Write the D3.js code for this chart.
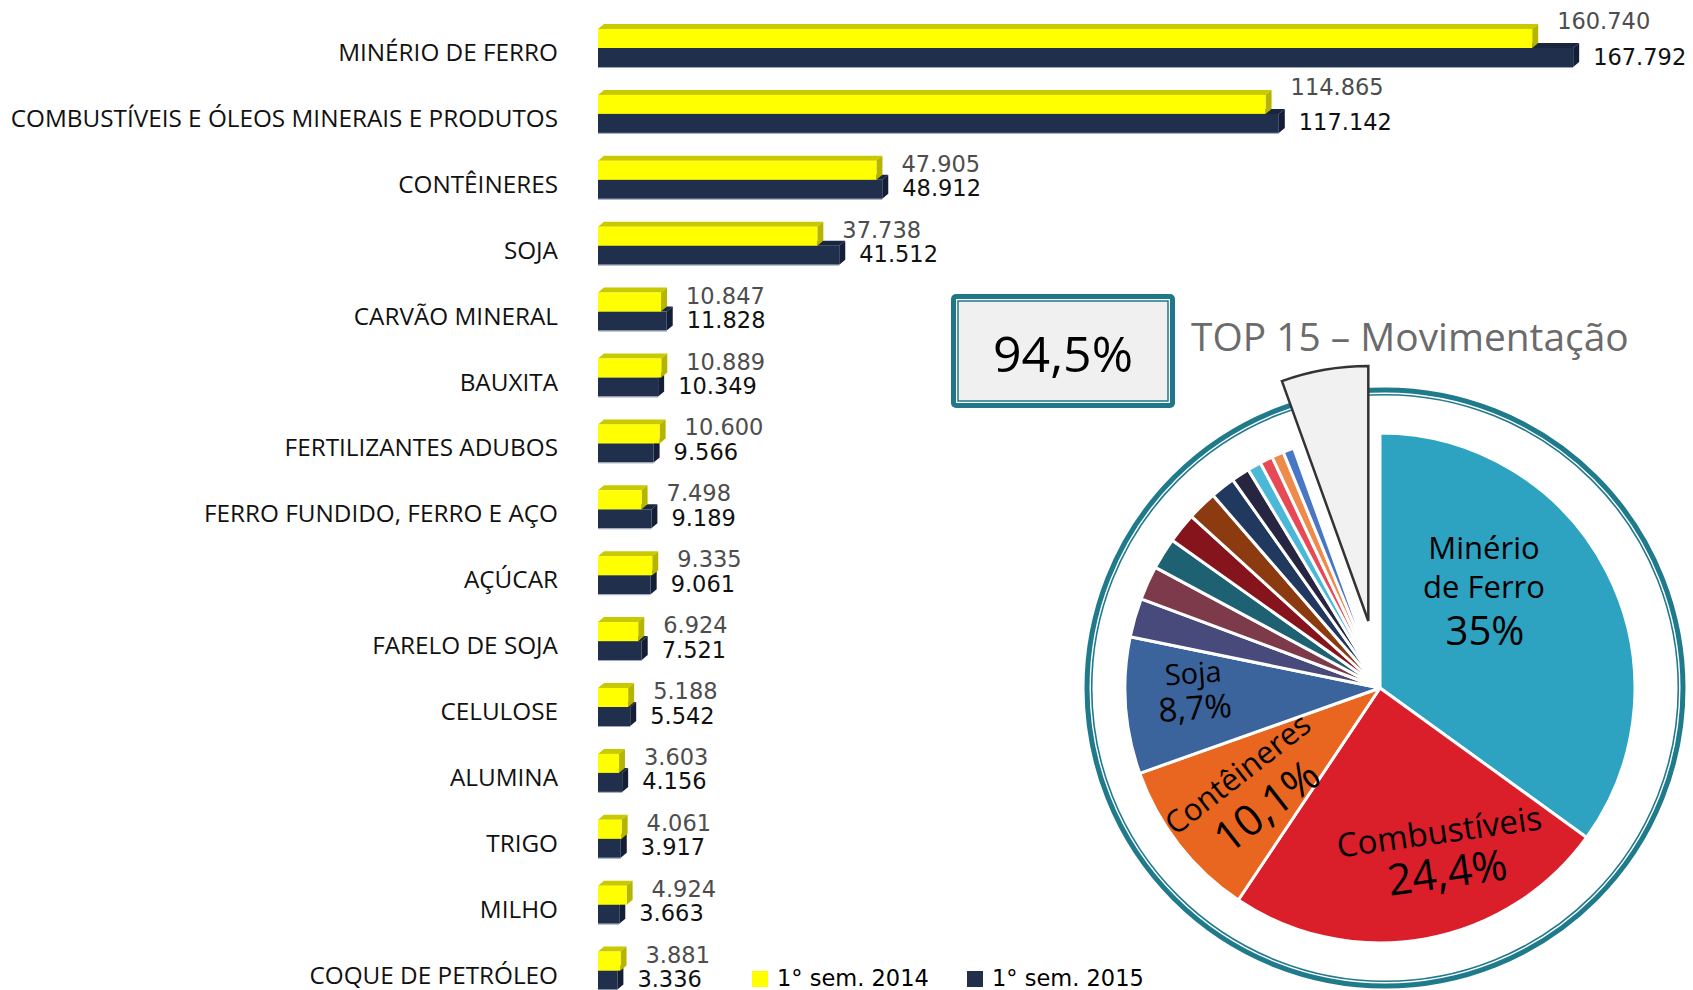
<!DOCTYPE html>
<html>
<head>
<meta charset="utf-8">
<script src="https://cdn.jsdelivr.net/npm/d3@7"></script>
<style>
  body { margin: 0; background: #fff; }
  svg { display: block; }
</style>
</head>
<body>
<div id="viz"></div>
<script>
// ---- data (thousand tonnes, 1st semester) ----
let categories = [
  "MINÉRIO DE FERRO", "COMBUSTÍVEIS E ÓLEOS MINERAIS E PRODUTOS", "CONTÊINERES", "SOJA",
  "CARVÃO MINERAL", "BAUXITA", "FERTILIZANTES ADUBOS", "FERRO FUNDIDO, FERRO E AÇO",
  "AÇÚCAR", "FARELO DE SOJA", "CELULOSE", "ALUMINA", "TRIGO", "MILHO", "COQUE DE PETRÓLEO"
];
let values_2014 = [160740, 114865, 47905, 37738, 10847, 10889, 10600, 7498, 9335, 6924, 5188, 3603, 4061, 4924, 3881];
let values_2015 = [167792, 117142, 48912, 41512, 11828, 10349, 9566, 9189, 9061, 7521, 5542, 4156, 3917, 3663, 3336];
let series_names = ["1° sem. 2014", "1° sem. 2015"];

// share of the top 15 in the whole movement (2015)
let top15_share = 0.945;
let top15_label = "94,5%";
let pie_title = "TOP 15 – Movimentação";

// pie slice colours: 15 products + "others"
let pie_colors = ["#2DA3C1", "#DA1F2B", "#E8661F", "#3A649B", "#474A7A", "#7D3A4A", "#1E6173",
                  "#86141D", "#8C3B10", "#21385F", "#272642", "#4CB8D8", "#E84A55", "#EE8A4A", "#4A76C6",
                  "#F1F1F1"];

// ---- layout ----
const W = 1693, H = 990;
let svg = d3.select("#viz").append("svg").attr("width", W).attr("height", H);

let x = d3.scaleLinear().domain([0, 170000]).range([598, 1586]);
let y = d3.scaleBand().domain(categories).range([14.5, 14.5 + 65.9 * categories.length]);

let yellow = {front: "#FFFF00", top: "#C9C900", side: "#B5B500"};
let navy = {front: "#1F2F4C", top: "#182640", side: "#141E36"};
let dx3 = 6, dy3 = 5, bar_h = 19;

function bar3d(g, x0, x1, y0, h, c) {
  g.append("path")
    .attr("d", `M${x0},${y0}L${x0 + dx3},${y0 - dy3}L${x1 + dx3},${y0 - dy3}L${x1},${y0}Z`)
    .attr("fill", c.top);
  g.append("path")
    .attr("d", `M${x1},${y0}L${x1 + dx3},${y0 - dy3}L${x1 + dx3},${y0 + h - dy3}L${x1},${y0 + h}Z`)
    .attr("fill", c.side);
  g.append("rect")
    .attr("x", x0).attr("y", y0)
    .attr("width", x1 - x0).attr("height", h)
    .attr("fill", c.front);
}

let fmt = d3.format(",");
let dot = v => fmt(v).replace(/,/g, ".");

let rows = svg.append("g").selectAll("g.row")
  .data(categories)
  .join("g")
  .attr("class", "row");

rows.each(function(cat, i) {
  let g = d3.select(this);
  let split = y(cat) + 33.5;
  let v14 = values_2014[i], v15 = values_2015[i];

  // 2015 bar first, 2014 sits on top of it
  bar3d(g, x(0), x(v15), split, bar_h, navy);
  g.append("line")
    .attr("x1", x(0)).attr("x2", x(v15))
    .attr("y1", split + bar_h + 0.5).attr("y2", split + bar_h + 0.5)
    .attr("stroke", "#9AA6B8").attr("stroke-width", 1);
  bar3d(g, x(0), x(v14), split - bar_h, bar_h, yellow);

  // category label
  g.append("text")
    .attr("x", 558).attr("y", split + 13)
    .attr("text-anchor", "end")
    .attr("font-family", "'Open Sans', 'Noto Sans', sans-serif")
    .attr("font-size", 24.3)
    .attr("fill", "#111")
    .text(cat);

  // value labels
  g.append("text")
    .attr("x", x(v14) + 25)
    .attr("y", v14 > 100000 ? split - 19 : split - 8)
    .attr("font-family", "'DejaVu Sans', sans-serif")
    .attr("font-size", 22.5)
    .attr("fill", "#4D4D4D")
    .text(dot(v14));
  g.append("text")
    .attr("x", x(v15) + 20)
    .attr("y", split + 16.5)
    .attr("font-family", "'DejaVu Sans', sans-serif")
    .attr("font-size", 22.5)
    .attr("fill", "#111")
    .text(dot(v15));
});

// ---- legend ----
let legend = svg.append("g").attr("transform", "translate(752,970)");
[[0, yellow.front], [215, navy.front]].forEach(([lx, col], k) => {
  legend.append("rect").attr("x", lx).attr("y", 1).attr("width", 16).attr("height", 16).attr("fill", col);
  legend.append("text")
    .attr("x", lx + 25).attr("y", 16)
    .attr("font-family", "'DejaVu Sans', sans-serif")
    .attr("font-size", 22.5)
    .attr("fill", "#000")
    .text(series_names[k]);
});

// ---- pie ----
let total_top15 = d3.sum(values_2015);
let others = total_top15 / top15_share - total_top15;
let pie_values = values_2015.concat([others]);
let pie_data = d3.pie().sort(null).value(d => d)(pie_values);
let pie_r = 255;
let arc = d3.arc().innerRadius(0).outerRadius(pie_r);

let ring = svg.append("g").attr("transform", "translate(1385,688)");
ring.append("circle").attr("r", 298).attr("fill", "none").attr("stroke", "#1F7A8C").attr("stroke-width", 5);
ring.append("circle").attr("r", 293.3).attr("fill", "none").attr("stroke", "#1F7A8C").attr("stroke-width", 1.6);

let pie_g = svg.append("g").attr("transform", "translate(1380,688)");
pie_g.selectAll("path.slice")
  .data(pie_data.slice(0, -1))
  .join("path")
  .attr("class", "slice")
  .attr("d", arc)
  .attr("fill", (d, i) => pie_colors[i])
  .attr("stroke", "#fff")
  .attr("stroke-width", 3)
  .attr("stroke-linejoin", "round");

// exploded "others" slice
let rest = pie_data[pie_data.length - 1];
let mid = (rest.startAngle + rest.endAngle) / 2;
let pull = 68;
pie_g.append("path")
  .attr("transform", `translate(${Math.sin(mid) * pull},${-Math.cos(mid) * pull})`)
  .attr("d", arc(rest))
  .attr("fill", pie_colors[pie_colors.length - 1])
  .attr("stroke", "#333")
  .attr("stroke-width", 2.5)
  .attr("stroke-linejoin", "miter");

// pie labels
let font_pie = "'Open Sans', 'Noto Sans', sans-serif";
function pie_text(tx, ty, rot, size, str) {
  pie_g.append("text")
    .attr("transform", `translate(${tx},${ty}) rotate(${rot})`)
    .attr("text-anchor", "middle")
    .attr("dominant-baseline", "central")
    .attr("font-family", font_pie)
    .attr("font-size", size)
    .attr("fill", "#000")
    .text(str);
}
let pct = v => d3.format(".1f")(v / (total_top15 / top15_share) * 100).replace(".", ",") + "%";
pie_text(104, -141, 0, 31, "Minério");
pie_text(104, -102, 0, 31, "de Ferro");
pie_text(105, -59, 0, 40, "35%");
pie_text(59, 143, -8, 33, "Combustíveis");
pie_text(67, 183, -8, 43, pct(values_2015[1]));
pie_text(-143, 85, -38, 31, "Contêineres");
pie_text(-114, 117, -38, 43, "10,1%");
pie_text(-187, -16, -4, 29, "Soja");
pie_text(-185, 19, -4, 33, pct(values_2015[3]));

// ---- top-15 box and title ----
let box = svg.append("g").attr("transform", "translate(951,294)");
box.append("rect").attr("width", 224).attr("height", 114).attr("rx", 5).attr("fill", "#1F7788");
box.append("rect").attr("x", 5).attr("y", 5).attr("width", 214).attr("height", 104).attr("fill", "#fff");
box.append("rect").attr("x", 7).attr("y", 7).attr("width", 210).attr("height", 100)
  .attr("fill", "#F0F0F0").attr("stroke", "#1F7788").attr("stroke-width", 1.5);
box.append("text")
  .attr("x", 112).attr("y", 78)
  .attr("text-anchor", "middle")
  .attr("font-family", font_pie)
  .attr("font-size", 50)
  .attr("fill", "#000")
  .text(top15_label);

svg.append("text")
  .attr("x", 1191).attr("y", 351)
  .attr("font-family", font_pie)
  .attr("font-size", 38.9)
  .attr("fill", "#6B6B6B")
  .text(pie_title);
</script>
</body>
</html>
